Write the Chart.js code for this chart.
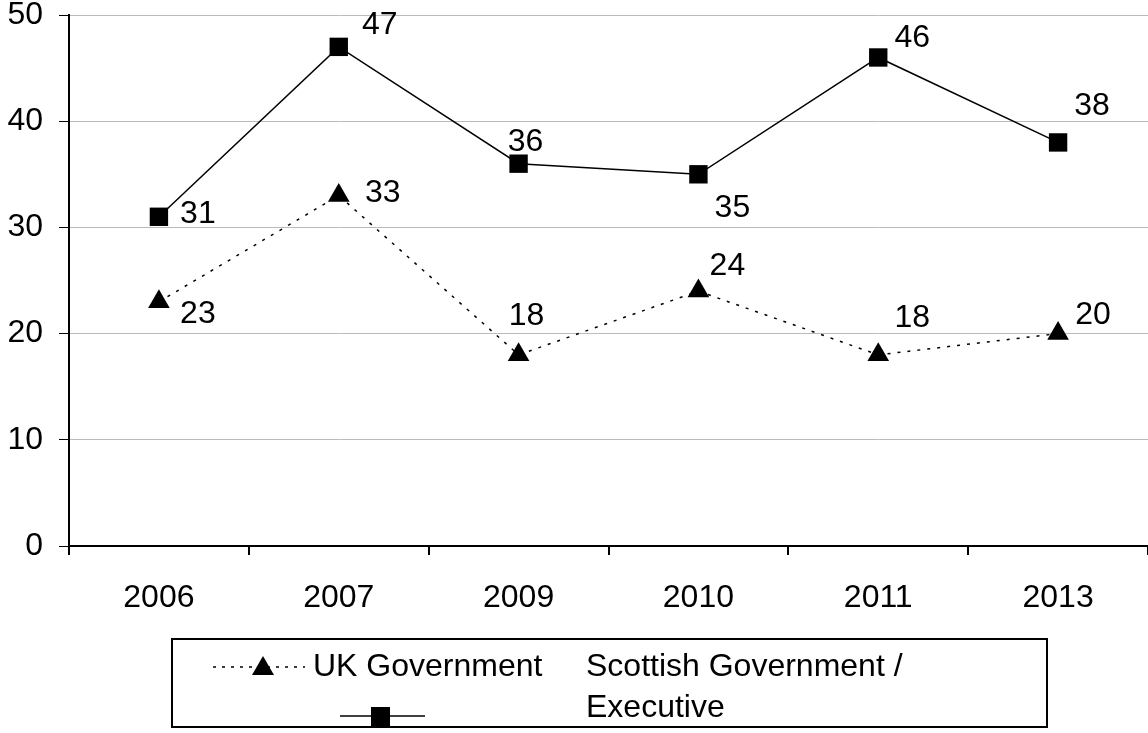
<!DOCTYPE html>
<html>
<head>
<meta charset="utf-8">
<script src="https://cdn.jsdelivr.net/npm/chart.js@4/dist/chart.umd.min.js"></script>
<style>
  html, body { margin: 0; padding: 0; background: #fff; }
  #wrap { width: 1148px; height: 733px; position: relative; }
</style>
</head>
<body>
<div id="wrap"><canvas id="chart" width="1148" height="733"></canvas></div>
<script>
// データ
const years = ['2006', '2007', '2009', '2010', '2011', '2013'];
const ukGov = [23, 33, 18, 24, 18, 20];
const scotGov = [31, 47, 36, 35, 46, 38];
const yTicks = [0, 10, 20, 30, 40, 50];

const FONT = 'Arial, "Liberation Sans", sans-serif';
const FSIZE = 32;

// ラベル位置のずれ（ピクセル）
const labelOffsets = {
    uk: [[39, 12], [44, -2], [8, -39], [29, -25], [34, -37], [35, -18]],
    scot: [[39, -3], [41, -22], [7, -22], [34, 34], [34, -19], [34, -36]]
};

// データラベル描画
const valueLabels = {
    id: 'valueLabels',
    afterDatasetsDraw(chart) {
        const ctx = chart.ctx;
        ctx.save();
        ctx.font = FSIZE + 'px ' + FONT;
        ctx.fillStyle = '#000';
        ctx.textAlign = 'center';
        ctx.textBaseline = 'middle';
        chart.data.datasets.forEach((ds, i) => {
            const offs = labelOffsets[ds.key];
            chart.getDatasetMeta(i).data.forEach((pt, j) => {
                ctx.fillText(String(ds.data[j]), pt.x + offs[j][0], pt.y + offs[j][1]);
            });
        });
        ctx.restore();
    }
};

// 凡例描画
const boxLegend = {
    id: 'boxLegend',
    afterDraw(chart) {
        const ctx = chart.ctx;
        ctx.save();
        ctx.strokeStyle = '#000';
        ctx.lineWidth = 2;
        ctx.strokeRect(172, 639, 875, 88);

        // UK
        ctx.lineWidth = 1.5;
        ctx.setLineDash([3, 6]);
        ctx.beginPath();
        ctx.moveTo(213, 667);
        ctx.lineTo(305, 667);
        ctx.stroke();
        ctx.setLineDash([]);
        ctx.fillStyle = '#000';
        ctx.beginPath();
        ctx.moveTo(263, 656);
        ctx.lineTo(274, 675);
        ctx.lineTo(252, 675);
        ctx.closePath();
        ctx.fill();

        // Scottish
        ctx.beginPath();
        ctx.moveTo(340, 716);
        ctx.lineTo(425, 716);
        ctx.stroke();
        ctx.fillRect(371, 707, 19, 19);

        ctx.font = FSIZE + 'px ' + FONT;
        ctx.textBaseline = 'middle';
        ctx.textAlign = 'left';
        ctx.fillText('UK Government', 313, 667);
        ctx.fillText('Scottish Government /', 586, 667);
        ctx.fillText('Executive', 586, 708);
        ctx.restore();
    }
};

new Chart(document.getElementById('chart'), {
    type: 'line',
    data: {
        labels: years,
        datasets: [
            {
                key: 'uk',
                label: 'UK Government',
                data: ukGov,
                borderColor: '#000',
                backgroundColor: '#000',
                borderWidth: 1.5,
                borderDash: [3, 7],
                pointStyle: 'triangle',
                pointRadius: 12.5,
                pointBorderWidth: 0,
                tension: 0
            },
            {
                key: 'scot',
                label: 'Scottish Government / Executive',
                data: scotGov,
                borderColor: '#000',
                backgroundColor: '#000',
                borderWidth: 1.5,
                pointStyle: 'rect',
                pointRadius: 13,
                pointBorderWidth: 0,
                tension: 0
            }
        ]
    },
    options: {
        responsive: false,
        animation: false,
        layout: { autoPadding: false, padding: { top: 15, right: 0, left: 0, bottom: 0 } },
        plugins: {
            legend: { display: false },
            tooltip: { enabled: false }
        },
        scales: {
            x: {
                offset: true,
                afterFit: s => {
                    s.height = 187;
                    s.paddingLeft = 0;
                    s.paddingRight = 0;
                },
                grid: {
                    offset: true,
                    drawOnChartArea: false,
                    drawTicks: true,
                    tickLength: 9,
                    color: '#000',
                    lineWidth: 2
                },
                border: { color: '#000', width: 2 },
                ticks: {
                    color: '#000',
                    font: { family: FONT, size: FSIZE },
                    padding: 24,
                    maxRotation: 0
                }
            },
            y: {
                min: 0,
                max: 50,
                afterFit: s => {
                    s.width = 69;
                    s.paddingTop = 0;
                    s.paddingBottom = 0;
                },
                afterBuildTicks: s => { s.ticks = yTicks.map(v => ({ value: v })); },
                grid: {
                    color: '#bbb',
                    lineWidth: 1,
                    tickLength: 10,
                    tickColor: '#000'
                },
                border: { color: '#000', width: 2 },
                ticks: {
                    color: '#000',
                    font: { family: FONT, size: FSIZE },
                    padding: 16
                }
            }
        }
    },
    plugins: [valueLabels, boxLegend]
});
</script>
</body>
</html>
